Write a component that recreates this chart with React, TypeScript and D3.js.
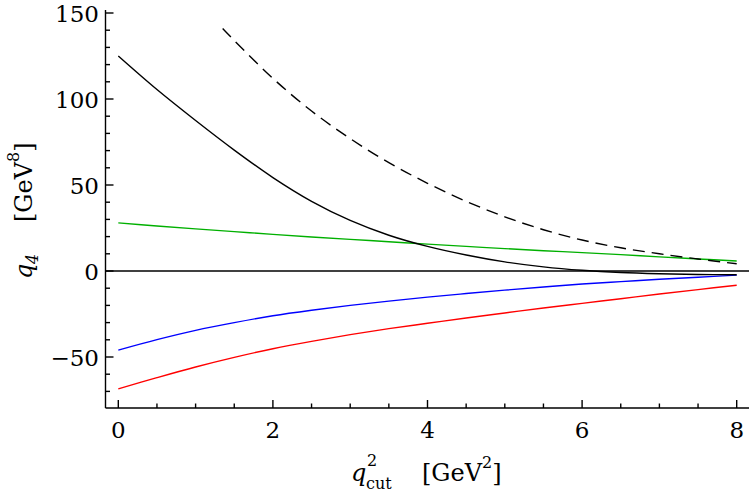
import * as d3 from "d3";

// q^2_cut grid (GeV^2)
const qGrid = [0, 0.5, 1, 1.5, 2, 2.5, 3, 3.5, 4, 4.5, 5, 5.5, 6, 6.5, 7, 7.5, 8];
const qDashed = [1.35, 1.5, 2, 2.5, 3, 3.5, 4, 4.5, 5, 5.5, 6, 6.5, 7, 7.5, 8];

// q4 contributions (GeV^8)
const totalSolid = [125, 105.5, 87.5, 70.3, 54.3, 40.5, 29.4, 20.8, 14.3, 9.3, 5.3, 2.4, 0.4, -0.9, -1.6, -2, -2.2];
const totalDashed = [141, 134, 112, 93, 77, 63, 51, 40.5, 31.5, 24, 18, 13.5, 10, 7, 4.2];
const greenSeries = [28, 26.2, 24.5, 22.9, 21.3, 19.8, 18.4, 17, 15.6, 14.3, 13, 11.8, 10.7, 9.5, 8.2, 7, 5.8];
const blueSeries = [-46, -39.9, -34.5, -30, -26, -22.8, -20, -17.5, -15.2, -13.1, -11.1, -9.3, -7.6, -6.2, -4.8, -3.6, -2.4];
const redSeries = [-68.5, -62, -55.8, -50.2, -45.2, -40.9, -37, -33.5, -30.4, -27.3, -24.4, -21.5, -18.8, -16.1, -13.4, -10.8, -8.3];

const xMajor = [0, 2, 4, 6, 8];
const yMajor = [-50, 0, 50, 100, 150];

const width = 750;
const height = 498;
const font = "DejaVu Serif";

const x = d3.scaleLinear().domain([0, 8]).range([118.3, 736.7]);
const y = d3.scaleLinear().domain([0, -50]).range([271, 357]);

const axisLeft = 105.5;
const axisBottom = 408;
const plotRight = 749;
const plotTop = 10;

const xMinor = d3.range(0, 8.01, 0.5).filter((v) => !xMajor.includes(v));
const yMinor = d3.range(-70, 151, 10).filter((v) => !yMajor.includes(v));

type Pt = [number, number];
const zip = (xs: number[], ys: number[]): Pt[] => xs.map((v, i) => [v, ys[i]]);

const line = d3
  .line<Pt>()
  .x((d) => x(d[0]))
  .y((d) => y(d[1]))
  .curve(d3.curveCatmullRom.alpha(0.5));

const series = [
  { data: zip(qGrid, redSeries), color: "#ff0000", dash: undefined },
  { data: zip(qGrid, blueSeries), color: "#0000ff", dash: undefined },
  { data: zip(qGrid, greenSeries), color: "#00b000", dash: undefined },
  { data: zip(qGrid, totalSolid), color: "#000000", dash: undefined },
  { data: zip(qDashed, totalDashed), color: "#000000", dash: "12,7" },
];

const fmt = (v: number) => (v < 0 ? "\u2212" + Math.abs(v) : String(v));

export default function App() {
  return (
    <svg
      width={width}
      height={height}
      style={{ position: "absolute", left: 0, top: 0, background: "#fff" }}
    >
      {/* zero line */}
      <line x1={axisLeft} x2={plotRight} y1={y(0)} y2={y(0)} stroke="#000" strokeWidth={1.4} />

      {series.map((s, i) => (
        <path
          key={i}
          d={line(s.data) ?? ""}
          fill="none"
          stroke={s.color}
          strokeWidth={1.4}
          strokeDasharray={s.dash}
        />
      ))}

      {/* axes */}
      <g stroke="#000" strokeWidth={1.4}>
        <line x1={axisLeft} x2={axisLeft} y1={plotTop} y2={axisBottom} />
        <line x1={axisLeft} x2={plotRight} y1={axisBottom} y2={axisBottom} />
        {xMajor.map((v) => (
          <line key={"xM" + v} x1={x(v)} x2={x(v)} y1={axisBottom} y2={axisBottom - 8} />
        ))}
        {xMinor.map((v) => (
          <line key={"xm" + v} x1={x(v)} x2={x(v)} y1={axisBottom} y2={axisBottom - 4.5} />
        ))}
        {yMajor.map((v) => (
          <line key={"yM" + v} x1={axisLeft} x2={axisLeft + 8} y1={y(v)} y2={y(v)} />
        ))}
        {yMinor.map((v) => (
          <line key={"ym" + v} x1={axisLeft} x2={axisLeft + 4.5} y1={y(v)} y2={y(v)} />
        ))}
      </g>

      <g fontFamily={font} fontSize={23} fill="#000">
        {xMajor.map((v) => (
          <text key={"xl" + v} x={x(v)} y={438} textAnchor="middle">
            {fmt(v)}
          </text>
        ))}
        {yMajor.map((v) => (
          <text key={"yl" + v} x={99} y={y(v) + 9} textAnchor="end">
            {fmt(v)}
          </text>
        ))}
      </g>

      {/* x title */}
      <g fontFamily={font} fill="#000">
        <text x={351} y={481} fontSize={24} fontStyle="italic">q</text>
        <text x={367} y={466} fontSize={16}>2</text>
        <text x={366} y={489} fontSize={16}>cut</text>
        <text x={422} y={481} fontSize={24}>
          [GeV<tspan fontSize={16} dy={-13}>2</tspan>
          <tspan dy={13}>]</tspan>
        </text>
      </g>

      {/* y title */}
      <g fontFamily={font} fill="#000" transform="rotate(-90)">
        <text x={-279} y={32} fontSize={24} fontStyle="italic">q</text>
        <text x={-264} y={38} fontSize={16} fontStyle="italic">4</text>
        <text x={-222} y={32} fontSize={24}>
          [GeV<tspan fontSize={16} dy={-13}>8</tspan>
          <tspan dy={13}>]</tspan>
        </text>
      </g>
    </svg>
  );
}
